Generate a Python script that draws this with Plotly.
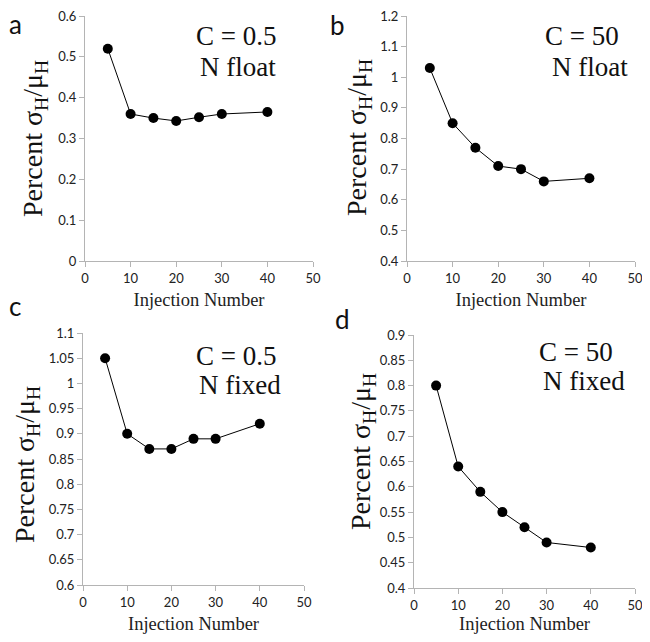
import plotly.graph_objects as go

# the page has an 8px body margin; size the figure so the page is 650x642
PAD = 8
W, H = 650 - 2 * PAD, 642 - 2 * PAD

injection = [5, 10, 15, 20, 25, 30, 40]
a_vals = [0.52, 0.36, 0.35, 0.343, 0.352, 0.36, 0.365]
b_vals = [1.03, 0.85, 0.77, 0.71, 0.70, 0.66, 0.67]
c_vals = [1.05, 0.90, 0.87, 0.87, 0.89, 0.89, 0.92]
d_vals = [0.80, 0.64, 0.59, 0.55, 0.52, 0.49, 0.48]

panel_letters = ["a", "b", "c", "d"]
c_labels = ["C = 0.5", "C = 50", "C = 0.5", "C = 50"]
n_labels = ["N float", "N float", "N fixed", "N fixed"]
y_ranges = [(0, 0.6, 0.1), (0.4, 1.2, 0.1), (0.6, 1.1, 0.05), (0.4, 0.9, 0.05)]
x_range = (0, 50, 10)
x_title = "Injection Number"
y_title = "Percent σ<sub>H</sub>/μ<sub>H</sub>"

series = [a_vals, b_vals, c_vals, d_vals]

# page-pixel boxes of plot areas: (left, right, top, bottom)
boxes = [(85, 313, 16, 261), (407, 635, 16, 261), (83, 304, 333, 585), (414, 635, 335, 588)]

def px_x(p):
    return (p - PAD) / W

def px_y(p):
    return 1 - (p - PAD) / H

fig = go.Figure()
layout = dict(
    width=W, height=H, margin=dict(l=0, r=0, t=0, b=0, pad=0),
    paper_bgcolor="white", plot_bgcolor="white", showlegend=False,
    font=dict(family="Lato", color="#222222"),
)

annotations = []
for i in range(4):
    xa = "xaxis" if i == 0 else f"xaxis{i+1}"
    ya = "yaxis" if i == 0 else f"yaxis{i+1}"
    xr = "x" if i == 0 else f"x{i+1}"
    yr = "y" if i == 0 else f"y{i+1}"
    l, r, t, b = boxes[i]
    y0, y1, dy = y_ranges[i]
    fig.add_trace(go.Scatter(
        x=injection, y=series[i], mode="lines+markers",
        line=dict(color="black", width=1),
        marker=dict(color="black", size=10),
        xaxis=xr, yaxis=yr, cliponaxis=False,
    ))
    layout[xa] = dict(
        domain=[px_x(l), px_x(r)], anchor=yr, range=[x_range[0], x_range[1]],
        dtick=x_range[2], tick0=0, showgrid=False, zeroline=False, automargin=False,
        showline=True, linecolor="#b4b4b4", linewidth=1, ticklabeloverflow="allow",
        ticks="outside", ticklen=5, tickcolor="#b4b4b4",
        tickfont=dict(family="Lato", size=13, color="#222222"),
        title=dict(text=x_title, font=dict(family="Liberation Serif", size=18.5, color="#222222"), standoff=8),
    )
    layout[ya] = dict(
        domain=[px_y(b), px_y(t)], anchor=xr, range=[y0, y1],
        dtick=dy, tick0=y0, showgrid=False, zeroline=False, automargin=False,
        showline=True, linecolor="#b4b4b4", linewidth=1, ticklabeloverflow="allow",
        ticks="outside", ticklen=5, tickcolor="#b4b4b4",
        tickfont=dict(family="Lato", size=13, color="#222222"),
    )

# y titles (rotated), panel letters, C / N labels (page pixels)
ytitle_pos = [(34, 139), (358, 138), (26, 465), (362, 452)]
letter_pos = [(15, 24), (337, 25), (15, 306), (342, 319)]
c_pos = [(236, 36), (582, 36), (236, 356), (576, 352)]
n_pos = [(238, 67), (590, 67), (240, 385), (584, 381)]

for i in range(4):
    annotations.append(dict(
        text=y_title, x=px_x(ytitle_pos[i][0]), y=px_y(ytitle_pos[i][1]),
        xref="paper", yref="paper", showarrow=False, textangle=-90,
        font=dict(family="Liberation Serif", size=28, color="#111111"),
        xanchor="center", yanchor="middle",
    ))
    annotations.append(dict(
        text=panel_letters[i], x=px_x(letter_pos[i][0]), y=px_y(letter_pos[i][1]),
        xref="paper", yref="paper", showarrow=False,
        font=dict(family="Lato", size=26, color="#111111"),
        xanchor="center", yanchor="middle",
    ))
    annotations.append(dict(
        text=c_labels[i], x=px_x(c_pos[i][0]), y=px_y(c_pos[i][1]),
        xref="paper", yref="paper", showarrow=False,
        font=dict(family="Liberation Serif", size=27, color="#111111"),
        xanchor="center", yanchor="middle",
    ))
    annotations.append(dict(
        text=n_labels[i], x=px_x(n_pos[i][0]), y=px_y(n_pos[i][1]),
        xref="paper", yref="paper", showarrow=False,
        font=dict(family="Liberation Serif", size=27, color="#111111"),
        xanchor="center", yanchor="middle",
    ))

layout["annotations"] = annotations
fig.update_layout(**layout)
fig.write_html("out.html")
